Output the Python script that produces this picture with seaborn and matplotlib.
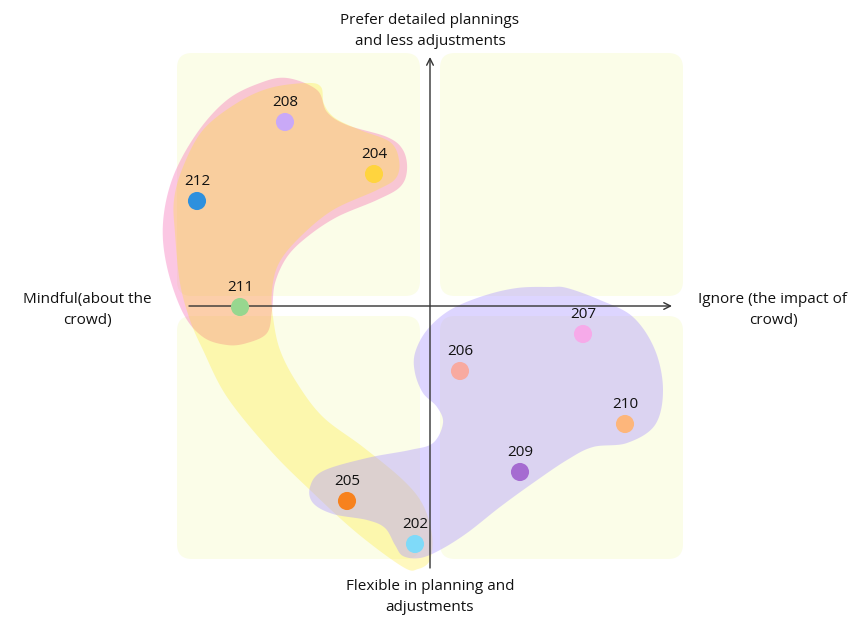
import numpy as np
import pandas as pd
import matplotlib
matplotlib.use("Agg")
import matplotlib.pyplot as plt
from matplotlib.patches import FancyBboxPatch, Polygon
import seaborn as sns

# ---------------- data ----------------
ids = ["208", "204", "212", "211", "207", "206", "210", "209", "205", "202"]
x_vals = [-14.5, -5.6, -23.3, -19.0, 15.3, 3.0, 19.5, 9.0, -8.3, -1.5]
y_vals = [18.4, 13.2, 10.5, -0.1, -2.8, -6.5, -11.8, -16.6, -19.5, -23.8]
point_colors = ["#C9A9F7", "#FFD43E", "#2E90DE", "#97D78F", "#F6AAE9",
                "#F8AAA0", "#FDB67B", "#A56BD1", "#F7821E", "#7FDAF9"]

axis_top = "Prefer detailed plannings\nand less adjustments"
axis_bottom = "Flexible in planning and\nadjustments"
axis_left = "Mindful(about the\ncrowd)"
axis_right = "Ignore (the impact of\ncrowd)"

# ---------------- helpers ----------------
def to_data(pts):
    p = np.asarray(pts, float)
    return np.column_stack([(p[:, 0] - 430) / 10.0, (306 - p[:, 1]) / 10.0])

def smooth(pts, n=24):
    P = np.asarray(pts, float)
    N = len(P)
    t = np.linspace(0, 1, n, endpoint=False)[:, None]
    out = []
    for i in range(N):
        p0, p1, p2, p3 = P[i - 1], P[i], P[(i + 1) % N], P[(i + 2) % N]
        out.append(0.5 * ((2 * p1) + (-p0 + p2) * t + (2 * p0 - 5 * p1 + 4 * p2 - p3) * t ** 2
                          + (-p0 + 3 * p1 - 3 * p2 + p3) * t ** 3))
    return np.vstack(out)

yellow_outline = to_data([
    (270, 88), (307, 83), (321, 87), (324, 104), (335, 118), (360, 130), (390, 142),
    (399, 160), (396, 178), (377, 190), (333, 210), (300, 237), (279, 263), (272, 290),
    (273, 317), (280, 350), (297, 383), (323, 417), (363, 447), (403, 480), (423, 505),
    (432, 535), (430, 560), (418, 569), (403, 567), (357, 533), (310, 490), (270, 450),
    (227, 397), (203, 350), (190, 320), (180, 283), (175, 233), (174, 200), (183, 167),
    (203, 130), (237, 103)])

pink_outline = to_data([
    (287, 78), (317, 90), (327, 112), (347, 125), (387, 137), (403, 150), (407, 170),
    (400, 187), (377, 200), (337, 217), (307, 237), (287, 257), (275, 283), (272, 310),
    (267, 333), (247, 343), (227, 345), (203, 337), (183, 313), (167, 267), (163, 223),
    (173, 177), (197, 133), (227, 100), (260, 83)])

purple_outline = to_data([
    (550, 287), (567, 288), (600, 300), (633, 317), (655, 350), (663, 390), (655, 425),
    (627, 443), (593, 447), (567, 460), (533, 483), (500, 507), (467, 533), (440, 550),
    (420, 558), (403, 556), (395, 545), (385, 528), (367, 520), (333, 514), (313, 503),
    (310, 487), (323, 471), (367, 458), (410, 450), (433, 443), (443, 423), (437, 407),
    (423, 393), (415, 373), (415, 353), (427, 330), (450, 310), (483, 296), (517, 288)])

# ---------------- figure ----------------
sns.set_theme(style="white")
plt.rcParams["font.family"] = ["Open Sans", "DejaVu Sans"]

fig = plt.figure(figsize=(8.56, 6.17), dpi=100)
ax = fig.add_axes([0, 0, 1, 1])
ax.set_xlim(-43.0, 42.6)
ax.set_ylim(-31.1, 30.6)
ax.axis("off")

# quadrant backgrounds
box_color = "#FBFDE8"
for (x0, y0) in [(-25.3, 1.0), (1.0, 1.0), (-25.3, -25.3), (1.0, -25.3)]:
    ax.add_patch(FancyBboxPatch((x0 + 1.5, y0 + 1.5), 24.3 - 3.0, 24.3 - 3.0,
                                boxstyle="round,pad=1.5", fc=box_color, ec="none", zorder=0))

# blobs
ax.add_patch(Polygon(smooth(pink_outline), closed=True, fc="#F248A5", ec="none", alpha=0.30, zorder=1))
ax.add_patch(Polygon(smooth(yellow_outline), closed=True, fc="#FFE600", ec="none", alpha=0.25, zorder=2))
ax.add_patch(Polygon(smooth(purple_outline), closed=True, fc="#B09BFF", ec="none", alpha=0.42, zorder=3))

# axes with arrows
ax.annotate("", xy=(24.2, 0), xytext=(-24.1, 0),
            arrowprops=dict(arrowstyle="->", color="#333333", lw=1.0, shrinkA=0, shrinkB=0,
                            mutation_scale=12), zorder=4)
ax.annotate("", xy=(0, 24.9), xytext=(0, -26.2),
            arrowprops=dict(arrowstyle="->", color="#333333", lw=1.0, shrinkA=0, shrinkB=0,
                            mutation_scale=12), zorder=4)

# points
df = pd.DataFrame({"id": ids, "x": x_vals, "y": y_vals})
sns.scatterplot(data=df, x="x", y="y", hue="id", palette=dict(zip(ids, point_colors)),
                s=170, linewidth=0, legend=False, ax=ax, zorder=5)
ax.set_xlabel("")
ax.set_ylabel("")
for name, xv, yv in zip(ids, x_vals, y_vals):
    ax.text(xv, yv + 1.2, name, ha="center", va="bottom", fontsize=11, color="#111111", zorder=6)

# axis titles
tkw = dict(ha="center", va="center", fontsize=11, color="#111111", linespacing=1.5)
ax.text(0, 27.5, axis_top, **tkw)
ax.text(0, -29.1, axis_bottom, **tkw)
ax.text(-34.3, -0.4, axis_left, **tkw)
ax.text(34.3, -0.4, axis_right, **tkw)

fig.savefig("out.png", dpi=100, facecolor="white")
